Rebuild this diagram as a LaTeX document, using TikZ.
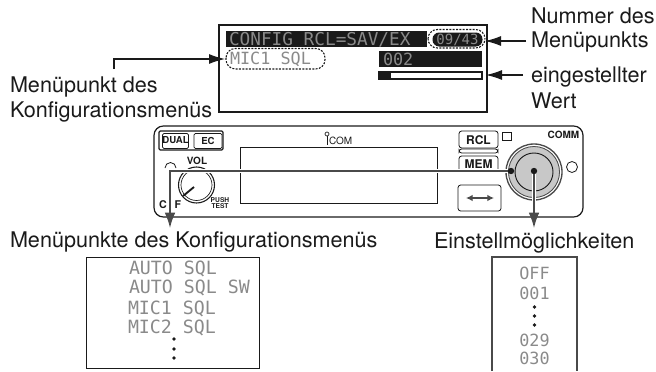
\documentclass[tikz,border=0pt]{standalone}
\usepackage{fontspec}
\setmainfont{TeX Gyre Heros}
\newfontfamily\lcdfont{DejaVu Sans Mono}
\usetikzlibrary{arrows.meta}
\definecolor{ink}{HTML}{1A1A1A}
\definecolor{lcdgray}{HTML}{8A8A8A}
\definecolor{knobgray}{HTML}{C8C8C8}
\definecolor{linegray}{HTML}{4A4A4A}
\tikzset{
  x=0.75pt,y=-0.75pt,
  every node/.style={inner sep=0pt,outer sep=0pt,text=ink},
  label/.style={anchor=base west,font=\fontsize{16.2}{16.2}\selectfont},
  lcdtext/.style={font=\lcdfont\fontsize{13.7}{13.7}\selectfont,text=lcdgray},
  lcdsmall/.style={font=\lcdfont\fontsize{12.6}{12.6}\selectfont,text=lcdgray},
  lcdinv/.style={font=\lcdfont\fontsize{13.3}{13.3}\selectfont,text=lcdgray},
  boxed/.style={draw=ink,line width=0.75pt,rectangle,anchor=north west},
  blackbar/.style={fill=ink,draw=none,rectangle,anchor=north west},
  paneltext/.style={font=\bfseries\fontsize{7.5}{7.5}\selectfont},
  tiny/.style={font=\bfseries\fontsize{5}{5}\selectfont},
  btn/.style={draw=ink,line width=0.6pt,rounded corners=2pt,fill=white,rectangle,anchor=north west},
  callout/.style={draw=ink,line width=0.9pt,-{Latex[length=12pt,width=7.5pt]}},
  feed/.style={line width=1.1pt,draw=linegray,-{Latex[length=11.5pt,width=8pt]}},
  halo/.style={draw=white,line width=3.5pt},
  dotm/.style={circle,fill=ink,minimum size=2.8pt},
  bigdot/.style={circle,fill=ink,minimum size=4.8pt},
  ring/.style={dash pattern=on 1.5pt off 1pt,draw=ink,line width=0.8pt,rounded corners=7pt},
}
\begin{document}
\begin{tikzpicture}
\useasboundingbox (0,0) rectangle (656,371);

% ---- LCD
\node[boxed,line width=1.5pt,minimum width=201pt,minimum height=65.25pt] (lcd) at (219,25) {};
\node[blackbar,minimum width=150.75pt,minimum height=12pt] (title) at (226,31) {};
\node[lcdinv,anchor=west] (titletext) at (229,39.5) {CONFIG RCL=SAV/EX};
\node[draw=none,fill=ink,rounded corners=5pt,minimum width=37.5pt,minimum height=10.5pt] (numbg) at (457.5,39.5) {};
\node[lcdinv,font=\lcdfont\fontsize{10.5}{10.5}\selectfont] (numtext) at (457.5,40) {09/43};
\draw[ring] (428,29.5) rectangle (485,48);
\coordinate (numring) at (485,41);
\draw[ring] (226,48.5) rectangle (325,69);
\node[lcdsmall,anchor=west] (micsql) at (230,59) {MIC1 SQL};
\coordinate (micring) at (225,59);
\node[blackbar,minimum width=77.25pt,minimum height=12pt] (valbar) at (379,51) {};
\node[lcdsmall,anchor=west] (valtext) at (383,59.5) {002};
\node[boxed,minimum width=77.25pt,minimum height=5.25pt,line width=0.8pt] (bar) at (379,72) {};
\node[blackbar,minimum width=9pt,minimum height=5.25pt] (barfill) at (379,72) {};

% ---- labels
\node[label] (l1) at (10,92) {Menüpunkt des};
\node[label] (l2) at (10,117) {Konfigurationsmenüs};
\node[label] (r1) at (531,23) {Nummer des};
\node[label] (r2) at (531,47) {Menüpunkts};
\node[label] (r3) at (531,82) {eingestellter};
\node[label] (r4) at (531,108) {Wert};
\node[label] (b1) at (10,247) {Menüpunkte des Konfigurationsmenüs};
\node[label] (b2) at (434,248) {Einstellmöglichkeiten};

% ---- callouts
\coordinate (c1) at (114,69);
\coordinate (c1b) at (114,59);
\draw[callout] (c1) -- (c1b) -- (micring);
\coordinate (c2) at (526,41);
\draw[callout] (c2) -- (numring);
\coordinate (c3) at (523,75);
\coordinate (c3b) at (486,75);
\draw[callout] (c3) -- (c3b);

% ---- panel
\draw[line width=0.9pt,draw=ink,rounded corners=7pt] (154,126) rectangle (583,217);
\node[btn,minimum width=48pt,minimum height=14.25pt,rounded corners=1pt,line width=0.9pt] (group) at (159,131) {};
\node[btn,minimum width=19.5pt,minimum height=11.25pt,rounded corners=1pt] (dual) at (162.5,133.5) {};
\node[btn,minimum width=21pt,minimum height=11.25pt,rounded corners=1pt] (ec) at (194,133.5) {};
\node[paneltext,font=\bfseries\fontsize{7.2}{7.2}\selectfont] at (175.5,140.5) {DUAL};
\node[paneltext,font=\bfseries\fontsize{7.2}{7.2}\selectfont] at (208,140.5) {EC};
\draw[line width=0.6pt,draw=ink] (165,168) arc (180:360:5.5);
\node[paneltext] (vol) at (197,161) {VOL};
\draw[draw=ink,line width=0.8pt] (196.5,185) circle (18);
\draw[draw=ink,line width=0.5pt] (196.5,185) circle (15.5);
\draw[line width=1.4pt,draw=ink] (183,196) -- (194,187);
\node[paneltext,font=\bfseries\fontsize{8}{8}\selectfont] (cc) at (163,205) {C};
\node[paneltext,font=\bfseries\fontsize{8}{8}\selectfont] (ff) at (178,205) {F};
\node[tiny] (push) at (220,200.5) {PUSH};
\node[tiny] (test) at (220,206.5) {TEST};
\node[boxed,minimum width=147.75pt,minimum height=42pt] (disp) at (240,147) {};
\draw[draw=ink,line width=0.5pt] (327,134) circle (2);
\draw[draw=ink,line width=0.6pt] (327,136) -- (327,145);
\node[anchor=west,font=\fontsize{7.5}{7.5}\selectfont] (icom) at (329,141) {COM};
\node[btn,minimum width=29.25pt,minimum height=12.75pt] (rcl) at (459,131) {};
\node[paneltext,font=\bfseries\fontsize{9}{9}\selectfont] at (478.5,140) {RCL};
\draw[draw=ink,line width=0.6pt,rounded corners=2pt] (459,149) rectangle (498,153);
\draw[draw=ink,line width=0.6pt,rounded corners=2pt] (459,172) -- (459,156) -- (498,156) -- (498,172);
\node[paneltext,font=\bfseries\fontsize{9}{9}\selectfont] at (478.5,164) {MEM};
\node[boxed,minimum width=6.75pt,minimum height=6pt,line width=0.6pt] (sq) at (502,132) {};
\node[btn,minimum width=32.25pt,minimum height=19.5pt] (swap) at (458,185) {};
\draw[draw=linegray,line width=1.3pt,{Latex[length=5pt,width=5pt]}-{Latex[length=5pt,width=5pt]}] (466,198) -- (494,198);
\node[paneltext,font=\bfseries\fontsize{7.5}{7.5}\selectfont] (comm) at (563.5,135) {COMM};
\draw[draw=ink,line width=0.6pt] (572,167) circle (5.5);
% main knob
\fill[knobgray] (534,172) circle (26);
\draw[draw=linegray,line width=1pt] (534,172) circle (28);
\draw[draw=linegray,line width=0.6pt] (534,172) circle (25.5);
\draw[draw=ink,line width=0.7pt] (534,172) circle (19);

% ---- feed lines
\node[bigdot] (dota) at (511,171) {};
\node[bigdot] (dotb) at (534,171) {};
\coordinate (corner) at (170,171);
\coordinate (tipa) at (170,228);
\coordinate (tipb) at (534,228);
\draw[halo] (dota) -- (corner) -- (170,214);
\draw[halo,line width=2.5pt] (dotb) -- (534,214);
\draw[feed] (dota) -- (corner) -- (tipa);
\draw[feed] (dotb) -- (tipb);

% ---- lists
\node[boxed,minimum width=129.75pt,minimum height=83.25pt] (listl) at (86,257) {};
\node[lcdtext,anchor=west] at (129,269) {AUTO SQL};
\node[lcdtext,anchor=west] at (129,288) {AUTO SQL SW};
\node[lcdtext,anchor=west] at (128,309) {MIC1 SQL};
\node[lcdtext,anchor=west] at (128,328) {MIC2 SQL};
\node[dotm] at (174,339) {};
\node[dotm] at (174,349) {};
\node[dotm] at (174,358) {};
\draw[draw=linegray,line width=1pt] (492,371) -- (492,257) -- (577,257) -- (577,371);
\node[lcdsmall] at (534.5,273) {OFF};
\node[lcdsmall] at (534.5,293) {001};
\node[dotm] at (534.5,307) {};
\node[dotm] at (534.5,316) {};
\node[dotm] at (534.5,325) {};
\node[lcdsmall] at (534.5,340) {029};
\node[lcdsmall] at (534.5,358) {030};
\end{tikzpicture}
\end{document}
